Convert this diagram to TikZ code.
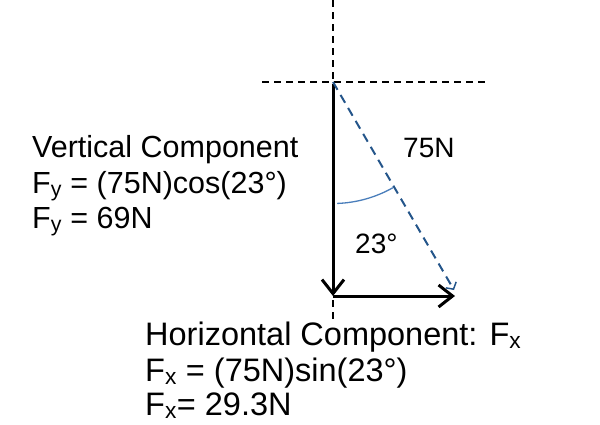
\documentclass[tikz,border=0pt]{standalone}
\usepackage{fontspec}
\setmainfont{Liberation Sans}
\usetikzlibrary{arrows.meta}
\definecolor{dkblue}{HTML}{24558A}
\definecolor{arcblue}{HTML}{4A7EBB}
\tikzset{
  guide/.style={line width=1.4pt, dash pattern=on 7pt off 5pt},
  vec/.style={line width=3pt, -{Straight Barb[length=14pt,width=22pt,line width=3pt]}},
  res/.style={line width=2pt, color=dkblue, dash pattern=on 9pt off 6pt, -{Straight Barb[length=5pt,width=12pt,line width=1.5pt]}},
  lbl/.style={inner sep=0pt, anchor=base west},
  leftlbl/.style={lbl, font=\fontsize{30.5}{36}\selectfont},
  botlbl/.style={lbl, font=\fontsize{32.5}{36}\selectfont},
  anglbl/.style={lbl, font=\fontsize{28}{32}\selectfont},
}
\newcommand{\sbx}[1]{\textsubscript{#1}}
\begin{document}
\begin{tikzpicture}[x=1pt,y=1pt]
\useasboundingbox (0,0) rectangle (600,-424);
\coordinate (top) at (333,0);
\coordinate (bot) at (333,-321);
\coordinate (hl) at (262,-82);
\coordinate (hr) at (486,-82);
\coordinate (O) at (333,-82);
\coordinate (vs) at (333,-86);
\coordinate (C) at (333,-296);
\coordinate (E) at (455,-296);
\coordinate (T) at (454,-290);
\draw[guide] (top) -- (bot);
\draw[guide] (hl) -- (hr);
\draw[vec] (vs) -- (C);
\draw[vec] (C) -- (E);
\draw[res] (O) -- (T);
\draw[arcblue, line width=1.3pt] (O) ++(-88:121.5) arc[start angle=-88, end angle=-60.5, radius=121.5];
\node[anglbl] (n75) at (403,-157) {75N};
\node[anglbl] (n23) at (355,-253) {23°};
\node[leftlbl] (v1) at (32,-157) {Vertical Component};
\node[leftlbl] (v2) at (32,-193) {F\sbx{y} = (75N)cos(23°)};
\node[leftlbl] (v3) at (32,-228) {F\sbx{y} = 69N};
\node[botlbl] (h1) at (145,-345) {Horizontal Component: F\sbx{x}};
\node[botlbl] (h2) at (145,-381) {F\sbx{x} = (75N)sin(23°)};
\node[botlbl] (h3) at (145,-415) {F\sbx{x}= 29.3N};
\end{tikzpicture}
\end{document}
